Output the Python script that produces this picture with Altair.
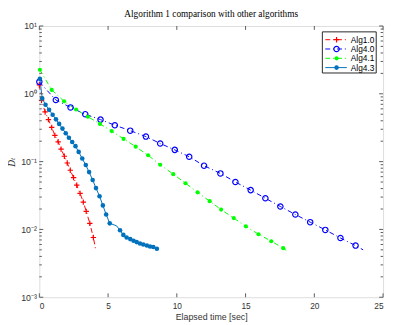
import altair as alt
import pandas as pd

# ---- data ----
alg10_t = [0.0, 0.16, 0.42, 0.66, 0.90, 1.13, 1.37, 1.58, 1.82, 2.03, 2.25, 2.49, 2.72, 2.96, 3.20, 3.41, 3.67, 3.93]
alg10_d = [1.35, 0.80, 0.54, 0.416, 0.319, 0.244, 0.196, 0.153, 0.120, 0.0955, 0.0746, 0.058, 0.0449, 0.034, 0.0253, 0.0185, 0.0123, 0.0076]
alg10_tail_t = [4.12]
alg10_tail_d = [0.0048]

alg40_t = [0.0, 1.2, 2.27, 3.34, 4.45, 5.49, 6.61, 7.75, 8.79, 9.85, 10.9, 11.98, 13.17, 14.26, 15.37, 16.44, 17.53, 18.62, 19.7, 20.8, 21.9, 23.0]
alg40_d = [1.5, 0.81, 0.63, 0.50, 0.416, 0.344, 0.286, 0.234, 0.185, 0.149, 0.118, 0.087, 0.067, 0.050, 0.038, 0.0288, 0.0218, 0.0166, 0.0128, 0.00984, 0.00747, 0.00578]
alg40_tail_t = [23.55]
alg40_tail_d = [0.0050]

alg41_t = [0.04, 0.9, 1.8, 2.67, 3.53, 4.41, 5.26, 6.13, 7.01, 7.91, 8.79, 9.74, 10.63, 11.51, 12.39, 13.22, 14.14, 15.02, 15.94, 16.87, 17.74]
alg41_d = [2.26, 1.14, 0.774, 0.586, 0.459, 0.36, 0.282, 0.216, 0.166, 0.124, 0.090, 0.0653, 0.048, 0.0352, 0.0261, 0.0196, 0.0147, 0.0111, 0.0085, 0.0067, 0.0053]
alg41_tail_t = [17.96]
alg41_tail_d = [0.0049]

alg43_t = [0.04, 0.21, 0.45, 0.71, 0.97, 1.21, 1.44, 1.68, 1.92, 2.15, 2.39, 2.63, 2.86, 3.12, 3.38, 3.62, 3.88, 4.12, 4.38, 4.62, 4.86, 5.12,
           5.87, 6.11, 6.35, 6.61, 6.85, 7.08, 7.32, 7.56, 7.82, 8.05, 8.29, 8.55]
alg43_d = [1.66, 0.855, 0.69, 0.58, 0.49, 0.42, 0.36, 0.307, 0.262, 0.225, 0.195, 0.169, 0.139, 0.111, 0.089, 0.070, 0.0536, 0.0407, 0.0309, 0.0226, 0.0166, 0.0123,
           0.0097, 0.0083, 0.0076, 0.0072, 0.0068, 0.0065, 0.0062, 0.0060, 0.0058, 0.0056, 0.0055, 0.0052]
alg43_flat_t = [5.62]
alg43_flat_d = [0.0113]

series_names = ["Alg1.0", "Alg4.0", "Alg4.1", "Alg4.3"]
series_colors = ["#ff0000", "#0000ff", "#00ff00", "#0072bd"]

x_ticks = [0, 5, 10, 15, 20, 25]
y_major = [0.001, 0.01, 0.1, 1, 10]
y_minor = [m * 10 ** k for k in range(-3, 1) for m in range(2, 10)]

W, H = 351, 277
DASHDOT = [5, 3, 1, 3]
AXIS_COLOR = "#5a5a5a"
LABEL_COLOR = "#333333"

xscale = alt.Scale(domain=[0, 25], nice=False, zero=False)
yscale = alt.Scale(type="log", domain=[0.001, 10], nice=False)

label_expr = ("datum.value < 0.005 ? '10⁻³' : datum.value < 0.05 ? '10⁻²' : "
              "datum.value < 0.5 ? '10⁻¹' : datum.value < 5 ? '10⁰' : '10¹'")

X_main = alt.X("t:Q", scale=xscale, axis=alt.Axis(
    values=x_ticks, tickSize=0, domain=False, grid=False, labelPadding=5,
    labelFont="Liberation Sans", labelFontSize=8.5, labelColor=LABEL_COLOR,
    title="Elapsed time [sec]", titleFont="Liberation Sans", titleFontSize=9,
    titleFontWeight="normal", titleColor=LABEL_COLOR, titlePadding=2))
Y_main = alt.Y("d:Q", scale=yscale, axis=alt.Axis(
    values=y_major, labelExpr=label_expr, tickSize=0, domain=False, grid=False,
    labelPadding=3, labelFont="Liberation Sans", labelFontSize=9, labelColor=LABEL_COLOR,
    title="Dₜ", titleFont="DejaVu Serif", titleFontStyle="italic", titleFontSize=9,
    titleFontWeight="normal", titleColor=LABEL_COLOR, titlePadding=4))
X_n = alt.X("t:Q", scale=xscale, title="Elapsed time [sec]")
Y_n = alt.Y("d:Q", scale=yscale, title="Dₜ")


def df(t, d):
    return pd.DataFrame({"t": t, "d": d})


layers = []

# Alg1.0 red, dash-dot, '+'
layers.append(alt.Chart(df(alg10_t + alg10_tail_t, alg10_d + alg10_tail_d)).mark_line(
    color=series_colors[0], strokeWidth=1, strokeDash=DASHDOT).encode(x=X_main, y=Y_main, order="t:Q"))
# Alg4.0 blue, dash-dot, open circle
layers.append(alt.Chart(df(alg40_t + alg40_tail_t, alg40_d + alg40_tail_d)).mark_line(
    color=series_colors[1], strokeWidth=1, strokeDash=DASHDOT).encode(x=X_n, y=Y_n, order="t:Q"))
# Alg4.1 green
layers.append(alt.Chart(df(alg41_t + alg41_tail_t, alg41_d + alg41_tail_d)).mark_line(
    color=series_colors[2], strokeWidth=1, strokeDash=DASHDOT).encode(x=X_n, y=Y_n, order="t:Q"))
# Alg4.3 solid
layers.append(alt.Chart(df(alg43_t + alg43_flat_t, alg43_d + alg43_flat_d)).mark_line(
    color=series_colors[3], strokeWidth=1).encode(x=X_n, y=Y_n, order="t:Q"))

PLUS = "M-1,0L1,0M0,-1L0,1"
layers.append(alt.Chart(df(alg10_t, alg10_d)).mark_point(
    shape=PLUS, filled=False, color=series_colors[0], size=30, strokeWidth=1.2, opacity=1).encode(x=X_n, y=Y_n))
layers.append(alt.Chart(df(alg40_t, alg40_d)).mark_point(
    shape="circle", filled=False, color=series_colors[1], size=30, strokeWidth=1.2, opacity=1).encode(x=X_n, y=Y_n))
layers.append(alt.Chart(df(alg41_t, alg41_d)).mark_point(
    shape="circle", filled=True, color=series_colors[2], size=18, opacity=1).encode(x=X_n, y=Y_n))
layers.append(alt.Chart(df(alg43_t, alg43_d)).mark_point(
    shape="circle", filled=True, color=series_colors[3], size=22, opacity=1).encode(x=X_n, y=Y_n))

# inward ticks on all four sides
ymaj = pd.DataFrame({"d": y_major})
ymin = pd.DataFrame({"d": y_minor})
xt = pd.DataFrame({"t": x_ticks})
tick_style = dict(color=AXIS_COLOR, strokeWidth=1)
layers.append(alt.Chart(ymaj).mark_rule(**tick_style).encode(y=Y_n, x=alt.value(0), x2=alt.value(4)))
layers.append(alt.Chart(ymaj).mark_rule(**tick_style).encode(y=Y_n, x=alt.value(W), x2=alt.value(W - 4)))
layers.append(alt.Chart(ymin).mark_rule(**tick_style).encode(y=Y_n, x=alt.value(0), x2=alt.value(2.5)))
layers.append(alt.Chart(ymin).mark_rule(**tick_style).encode(y=Y_n, x=alt.value(W), x2=alt.value(W - 2.5)))
layers.append(alt.Chart(xt).mark_rule(**tick_style).encode(x=X_n, y=alt.value(H), y2=alt.value(H - 4)))
layers.append(alt.Chart(xt).mark_rule(**tick_style).encode(x=X_n, y=alt.value(0), y2=alt.value(4)))

# legend (drawn by hand, MATLAB style)
one = pd.DataFrame({"k": [0]})
LX0, LX1, LY0, LY1 = 289, 344, 6, 48
layers.append(alt.Chart(one).mark_rect(fill="white", stroke="#262626", strokeWidth=1).encode(
    x=alt.value(LX0), x2=alt.value(LX1), y=alt.value(LY0), y2=alt.value(LY1)))
row_y = [14, 23.5, 33, 42.5]
dashes = [DASHDOT, DASHDOT, DASHDOT, None]
shapes = [(PLUS, False, 30), ("circle", False, 30), ("circle", True, 18), ("circle", True, 22)]
for i, name in enumerate(series_names):
    kw = dict(color=series_colors[i], strokeWidth=1)
    if dashes[i]:
        kw["strokeDash"] = dashes[i]
    layers.append(alt.Chart(one).mark_rule(**kw).encode(
        x=alt.value(292), x2=alt.value(314), y=alt.value(row_y[i])))
    shp, fil, sz = shapes[i]
    layers.append(alt.Chart(one).mark_point(
        shape=shp, filled=fil, color=series_colors[i], size=sz, strokeWidth=1.2, opacity=1).encode(
        x=alt.value(303.5), y=alt.value(row_y[i])))
    layers.append(alt.Chart(pd.DataFrame({"label": [name]})).mark_text(
        align="left", baseline="middle", font="Liberation Sans", fontSize=8.5, color="#000000").encode(
        x=alt.value(318), y=alt.value(row_y[i]), text="label:N"))

chart = alt.layer(*layers).properties(
    width=W, height=H,
    title=alt.TitleParams("Algorithm 1 comparison with other algorithms", font="Liberation Serif",
                          fontSize=9.5, fontWeight="normal", color="#000000", anchor="middle", offset=4),
    autosize=alt.AutoSizeParams(type="none"),
    padding={"left": 32, "top": 15, "right": 3, "bottom": 26},
).configure_view(stroke=AXIS_COLOR, strokeWidth=1.2).configure(background="white")

chart.save("out.html", embed_options={"renderer": "svg", "actions": False})
